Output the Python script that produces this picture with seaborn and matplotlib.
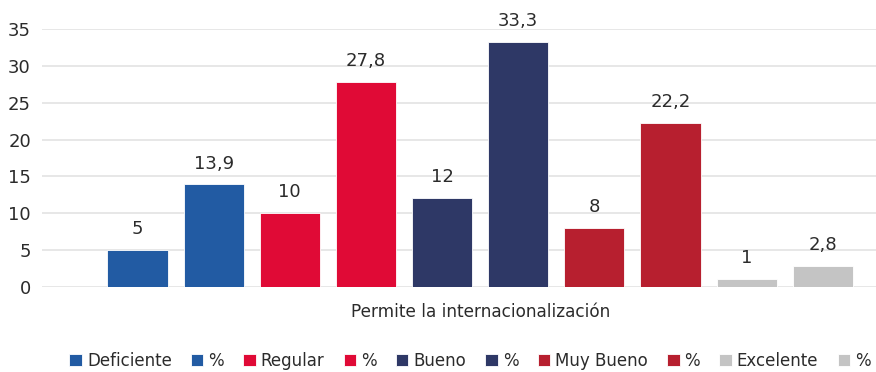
import matplotlib
matplotlib.use("Agg")
import matplotlib.pyplot as plt
import seaborn as sns
import pandas as pd

# Survey results: counts and percentages per rating level
series_keys = ["Deficiente", "Deficiente %", "Regular", "Regular %", "Bueno", "Bueno %",
               "Muy Bueno", "Muy Bueno %", "Excelente", "Excelente %"]
legend_labels = ["Deficiente", "%", "Regular", "%", "Bueno", "%",
                 "Muy Bueno", "%", "Excelente", "%"]
values = [5, 13.9, 10, 27.8, 12, 33.3, 8, 22.2, 1, 2.8]
value_labels = ["5", "13,9", "10", "27,8", "12", "33,3", "8", "22,2", "1", "2,8"]
colors = ["#225BA3", "#225BA3", "#E00A36", "#E00A36", "#2E3866", "#2E3866",
          "#B71F2F", "#B71F2F", "#C4C4C4", "#C4C4C4"]
category = "Permite la internacionalización"
yticks = [0, 5, 10, 15, 20, 25, 30, 35]

df = pd.DataFrame({"serie": series_keys, "valor": values})

sns.set_theme(style="white")
plt.rcParams["font.family"] = ["DejaVu Sans"]
text_color = "#2B2B2B"

fig = plt.figure(figsize=(8.76, 3.72), dpi=100)
ax = fig.add_axes([42 / 876, 1 - 286.7 / 372, 1 - 42 / 876, (286.7 - 29.3) / 372])

sns.barplot(data=df, x="serie", y="valor", hue="serie", palette=colors,
            order=series_keys, hue_order=series_keys, width=0.79, saturation=1,
            edgecolor="white", linewidth=0.6, legend=True, ax=ax)

for patch, lab in zip(ax.patches, value_labels):
    h = patch.get_height()
    ax.annotate(lab, (patch.get_x() + patch.get_width() / 2, h),
                xytext=(0, 11.5), textcoords="offset points",
                ha="center", va="baseline", fontsize=13, color=text_color)

ax.set_ylim(0, 35)
ax.set_xlim(-1.255, 9.70)
ax.set_yticks(yticks)
ax.set_yticklabels([str(t) for t in yticks], fontsize=13, color=text_color)
ax.yaxis.grid(True, color="#E3E3E3", linewidth=1.2)
ax.set_axisbelow(True)
ax.tick_params(axis="y", length=0, pad=8)
ax.tick_params(axis="x", length=0)
ax.set_xticks([4.5])
ax.set_xticklabels([category], fontsize=12.2, color=text_color)
ax.tick_params(axis="x", pad=12)
ax.set_xlabel("")
ax.set_ylabel("")
for s in ax.spines.values():
    s.set_visible(False)

handles, _ = ax.get_legend_handles_labels()
ax.get_legend().remove()
fig.legend(handles, legend_labels, loc="center", bbox_to_anchor=(470 / 876, 1 - 361 / 372),
           ncol=10, frameon=False, fontsize=12, handlelength=0.75, handleheight=0.75,
           handletextpad=0.3, columnspacing=1.15, labelcolor=text_color)

fig.savefig("out.png", dpi=100)
